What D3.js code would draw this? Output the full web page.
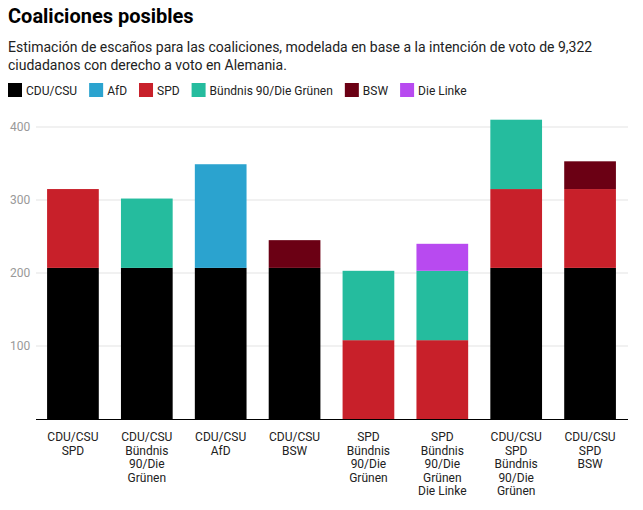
<!DOCTYPE html><html><head><meta charset="utf-8"><script src="https://cdn.jsdelivr.net/npm/d3@7"></script>
<style>body{margin:0;font-family:Roboto,sans-serif;background:#fff}</style></head><body>
<script>
const coalitions=[["CDU/CSU","SPD"],["CDU/CSU","Bündnis","90/Die","Grünen"],["CDU/CSU","AfD"],["CDU/CSU","BSW"],["SPD","Bündnis","90/Die","Grünen"],["SPD","Bündnis","90/Die","Grünen","Die Linke"],["CDU/CSU","SPD","Bündnis","90/Die","Grünen"],["CDU/CSU","SPD","BSW"]];
const parties=["CDU/CSU","AfD","SPD","Bündnis 90/Die Grünen","BSW","Die Linke"];
const colors=["#000000","#2ba3cf","#c8202a","#25bc9e","#6b0014","#b84af0"];
const seats=[207,142,108,95,38,37];
const members=[[0,2],[0,3],[0,1],[0,4],[2,3],[2,3,5],[0,2,3],[0,2,4]];
const yTicks=[100,200,300,400];
const W=643,H=510;
const svg=d3.select("body").append("svg").attr("width",W).attr("height",H);
svg.append("text").attr("x",8).attr("y",23).attr("font-size",20).attr("font-weight",700).text("Coaliciones posibles");
svg.append("text").attr("x",8).attr("y",52).attr("font-size",14).attr("fill","#222").text("Estimación de escaños para las coaliciones, modelada en base a la intención de voto de 9,322");
svg.append("text").attr("x",8).attr("y",70).attr("font-size",14).attr("fill","#222").text("ciudadanos con derecho a voto en Alemania.");
let lx=8;
parties.forEach((p,i)=>{const g=svg.append("g").attr("transform",`translate(${lx},83)`);
g.append("rect").attr("width",14).attr("height",14).attr("fill",colors[i]);
const t=g.append("text").attr("x",18).attr("y",11.5).attr("font-size",12).attr("fill","#222").text(p);
lx+=18+t.node().getComputedTextLength()+12;});
const x=d3.scaleBand().domain(d3.range(8)).range([36,627]).paddingInner(0.3).paddingOuter(0.15);
const y=d3.scaleLinear().domain([0,400]).range([419,127]);
yTicks.forEach(t=>{svg.append("line").attr("x1",36).attr("x2",628).attr("y1",y(t)).attr("y2",y(t)).attr("stroke","#e3e3e3");
svg.append("text").attr("x",10).attr("y",y(t)+4).attr("font-size",12).attr("fill","#999").text(t);});
members.forEach((m,i)=>{let acc=0;m.forEach(p=>{svg.append("rect").attr("x",x(i)).attr("width",x.bandwidth()).attr("y",y(acc+seats[p])).attr("height",y(acc)-y(acc+seats[p])).attr("fill",colors[p]);acc+=seats[p];});
const t=svg.append("text").attr("text-anchor","middle").attr("font-size",12).attr("fill","#222");
coalitions[i].forEach((l,j)=>t.append("tspan").attr("x",x(i)+x.bandwidth()/2).attr("y",441+j*13.5).text(l));});
svg.append("line").attr("x1",36).attr("x2",628).attr("y1",419.5).attr("y2",419.5).attr("stroke","#000");
</script></body></html>
